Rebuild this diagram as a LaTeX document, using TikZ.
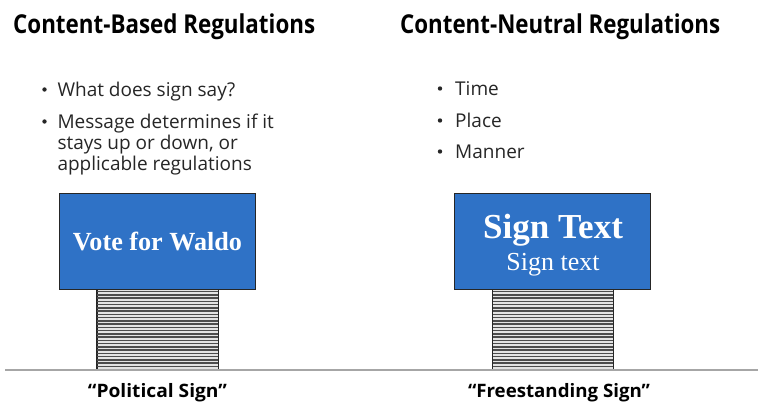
\documentclass[tikz,border=0pt]{standalone}
\usepackage{fontspec}
\usepackage{graphicx}
\setmainfont{Open Sans}
\newfontfamily\serifsign{Liberation Serif}
\definecolor{signblue}{HTML}{2F72C6}
\definecolor{txt}{HTML}{262626}
\newcommand{\fitw}[2]{\resizebox{#1}{\height}{#2}}
\newcommand{\fitu}[2]{\resizebox{#1}{!}{#2}}
\tikzset{
  signbox/.style={draw=black!85, line width=0.8pt, fill=signblue, minimum width=196pt, minimum height=96pt, inner sep=0pt},
  postbox/.style={draw=black!85, line width=0.8pt, fill=gray!22, minimum width=121pt, minimum height=80pt, inner sep=0pt},
  ttl/.style={anchor=base west, inner sep=0pt, text=black, font=\fontsize{26}{30}\selectfont\bfseries},
  blt/.style={anchor=base west, inner sep=0pt, text=txt, font=\fontsize{19}{21}\selectfont},
  dot/.style={circle, fill=txt, inner sep=0pt, minimum size=4.4pt},
  lbl/.style={anchor=base, inner sep=0pt, text=black, font=\fontsize{18.5}{21}\selectfont\bfseries},
  signtxt/.style={anchor=base, inner sep=0pt, text=white},
}
\begin{document}
\begin{tikzpicture}[x=1pt,y=-1pt]
\useasboundingbox[fill=white] (0,0) rectangle (758,405);
% titles
\node[ttl] (t1) at (13,33.3) {\fitw{302pt}{Content-Based Regulations}};
\node[ttl] (t2) at (400,33.3) {\fitw{320pt}{Content-Neutral Regulations}};
% left bullets
\node[dot] (d1) at (44.5,89.5) {};
\node[blt] (b1) at (57.3,96.7) {What does sign say?};
\node[dot] (d2) at (44.5,121.5) {};
\node[blt] (b2) at (57.3,128.3) {Message determines if it};
\node[blt] (b3) at (57.3,149.3) {stays up or down, or};
\node[blt] (b4) at (57.3,170.3) {applicable regulations};
% right bullets
\node[dot] (d3) at (440,88.5) {};
\node[blt] (r1) at (455,95.7) {Time};
\node[dot] (d4) at (440,120.5) {};
\node[blt] (r2) at (455,127.3) {Place};
\node[dot] (d5) at (440,151.5) {};
\node[blt] (r3) at (455,158.3) {Manner};
% posts
\node[postbox] (p1) at (157.5,329.5) {};
\node[postbox] (p2) at (553,329.5) {};
\foreach \p in {p1,p2}{
  \foreach \k in {0,...,23}{
    \draw[black!70, line width=1.3pt]
      ([yshift=-2.5pt-\k*3.25pt]\p.north west) -- ([yshift=-2.5pt-\k*3.25pt]\p.north east);
  }
  \draw[black!85, line width=0.9pt] (\p.north west) -- (\p.south west);
  \draw[black!85, line width=0.9pt] (\p.north east) -- (\p.south east);
}
% ground
\coordinate (g1) at (5,370);
\coordinate (g2) at (758,370);
\draw[gray!70, line width=1.4pt] (g1) -- (g2);
% signs
\node[signbox] (s1) at (157,241) {};
\node[signbox] (s2) at (552.5,241) {};
\node[signtxt] (v1) at (157.5,250) {\fitu{169pt}{\serifsign\bfseries Vote for Waldo}};
\node[signtxt] (v2) at (553,238) {\fitu{140pt}{\serifsign\bfseries Sign Text}};
\node[signtxt] (v3) at (553,270) {\fitu{93pt}{\serifsign Sign text}};
% labels
\node[lbl] (l1) at (157.5,397.7) {\fitw{139pt}{“Political Sign”}};
\node[lbl] (l2) at (559,397.7) {\fitw{182pt}{“Freestanding Sign”}};
\end{tikzpicture}
\end{document}
